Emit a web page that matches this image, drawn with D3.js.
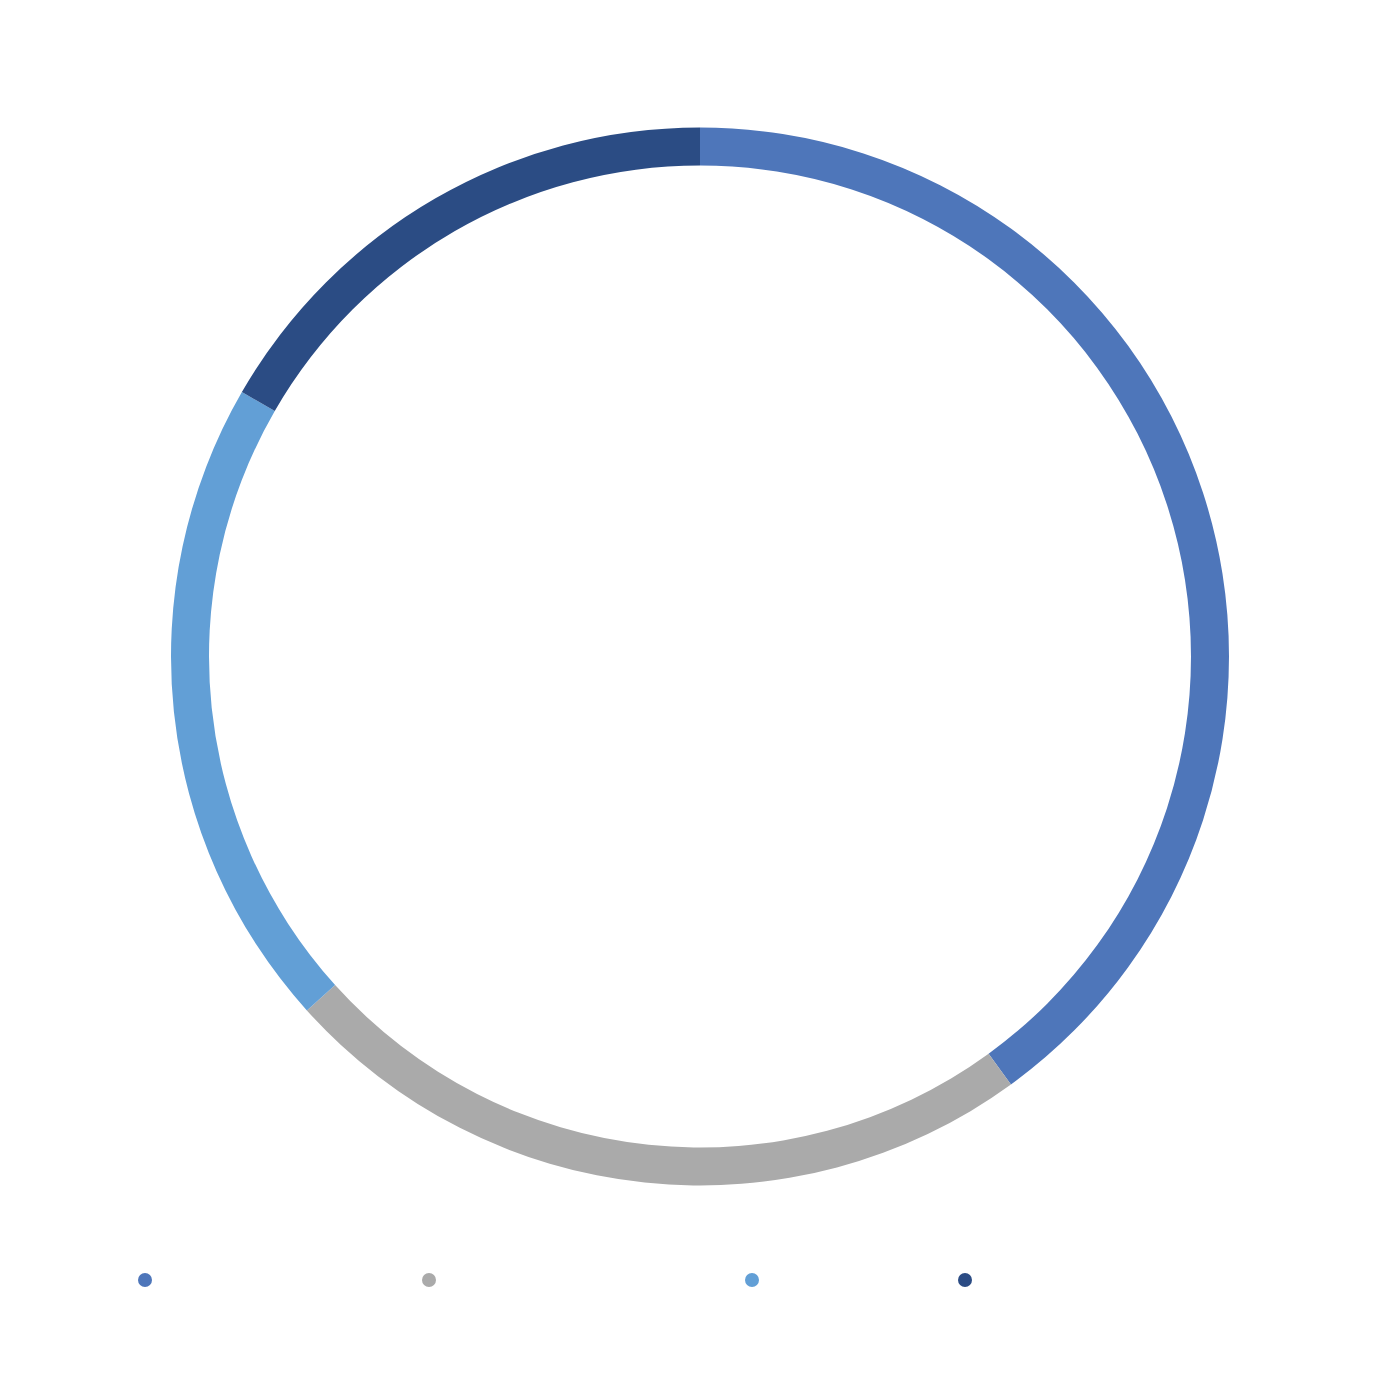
<!DOCTYPE html>
<html>
<head>
<meta charset="utf-8">
<script src="https://cdn.jsdelivr.net/npm/d3@7"></script>
<style>
  html, body { margin: 0; padding: 0; background: #ffffff; }
  svg { display: block; }
</style>
</head>
<body>
<svg id="chart" width="1400" height="1400"></svg>
<script>
const categories = ["A", "B", "C", "D"];
const values = [12, 7, 6, 5];
const colors = ["#4E76BA", "#AAAAAA", "#629FD6", "#2B4C84"];
const legendX = [145, 429, 752, 965];

const svg = d3.select("#chart");
const cx = 700, cy = 656.5, outerR = 529, innerR = 491;

const pie = d3.pie().sort(null).value(d => d.v);
const arcs = pie(categories.map((c, i) => ({ c, v: values[i] })));
const arc = d3.arc().innerRadius(innerR).outerRadius(outerR);
const color = d3.scaleOrdinal().domain(categories).range(colors);

svg.append("g")
  .attr("transform", `translate(${cx},${cy})`)
  .selectAll("path")
  .data(arcs)
  .join("path")
  .attr("d", arc)
  .attr("fill", d => color(d.data.c));

const legend = svg.append("g");
legend.selectAll("circle")
  .data(categories)
  .join("circle")
  .attr("cx", (d, i) => legendX[i])
  .attr("cy", 1280)
  .attr("r", 7)
  .attr("fill", d => color(d));
</script>
</body>
</html>
